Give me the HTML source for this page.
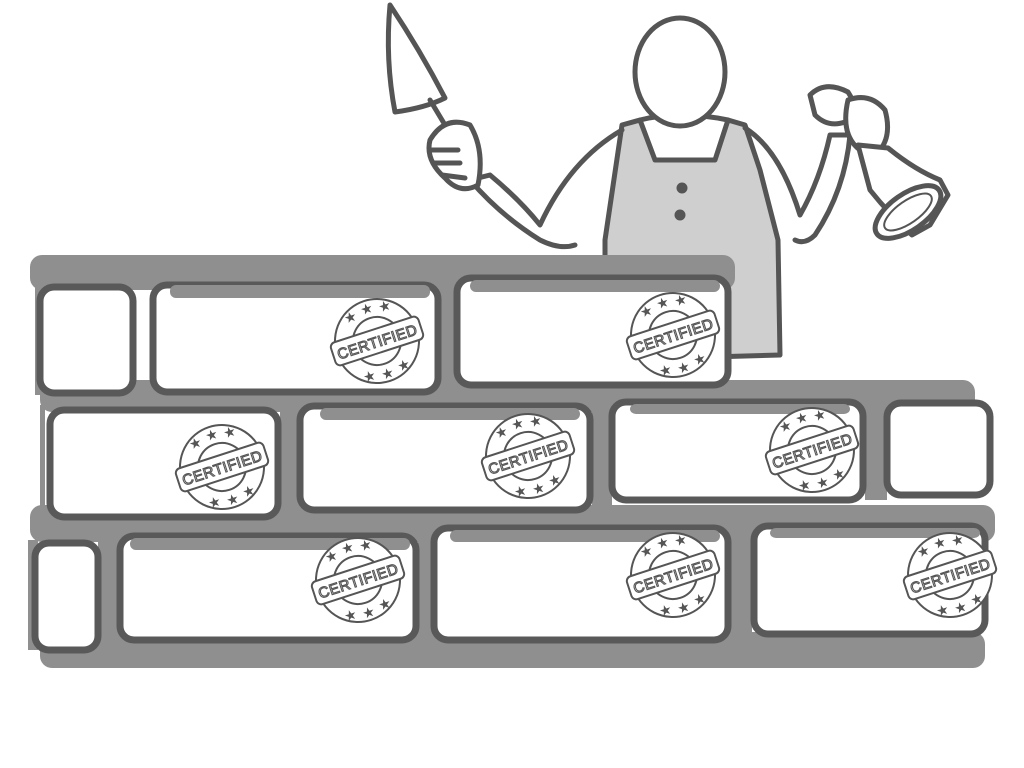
<!DOCTYPE html>
<html><head><meta charset="utf-8"><style>
html,body{margin:0;padding:0;background:#fff;}
svg{display:block}
</style></head><body>
<svg id="art" width="1024" height="768" viewBox="0 0 1024 768" xmlns="http://www.w3.org/2000/svg">
<g stroke="#555" stroke-width="5" fill="none" stroke-linecap="round" stroke-linejoin="round">
  <path d="M622 125 L640 120 L655 160 L715 160 L728 120 L745 125 L760 170 L778 240 L780 355 L605 360 L605 240 Z" fill="#cfcfcf"/>
  <path d="M640 120 Q680 110 728 120"/>
  <path d="M622 130 Q570 160 540 225 Q520 200 490 175 L470 180 Q500 215 540 240 Q560 250 575 245"/>
  <path d="M745 128 Q780 150 800 215 Q820 180 830 135 L850 135 Q845 190 815 235 Q805 245 795 240"/>
  <ellipse cx="680" cy="72" rx="45" ry="54" fill="#fff"/>
  <circle cx="682" cy="188" r="3" fill="#555"/><circle cx="680" cy="215" r="3" fill="#555"/>
  <path d="M390 5 Q385 60 395 112 Q425 108 445 98 Q420 50 390 5 Z" fill="#fff"/>
  <path d="M430 100 L445 125"/>
  <path d="M430 140 Q445 115 470 125 Q485 150 478 185 Q460 195 445 178 Q425 160 430 140 Z" fill="#fff"/>
  <path d="M432 150 L458 150 M435 163 L460 163 M442 175 L465 178"/>
  <path d="M810 95 Q825 80 848 92 Q860 110 845 122 Q828 128 815 115 Z" fill="#fff"/>
  <path d="M848 100 Q870 92 885 110 Q892 135 880 150 L860 150 Q840 135 848 100 Z" fill="#fff"/>
  <path d="M858 145 L888 148 Q915 170 940 180 L948 195 L930 225 L912 235 Q890 215 870 190 Z" fill="#fff"/>
  <ellipse cx="908" cy="212" rx="38" ry="18" transform="rotate(-35 908 212)" fill="#fff"/>
  <ellipse cx="908" cy="212" rx="28" ry="11" transform="rotate(-35 908 212)" stroke-width="2"/>
</g>
<g id="wall"></g>
</svg>
<script>
var NS='http://www.w3.org/2000/svg';
var wall=document.getElementById('wall');
function el(tag,attrs,parent){var e=document.createElementNS(NS,tag);for(var k in attrs)e.setAttribute(k,attrs[k]);(parent||wall).appendChild(e);return e;}
var mortarBands=[[30,255,735,290],[40,380,975,412],[30,505,995,542],[40,632,985,668]];
mortarBands.forEach(function(b,i){
  var r=el('rect',{x:b[0],y:b[1],width:b[2]-b[0],height:b[3]-b[1],rx:12,fill:'#8f8f8f'});
  
  
});
var mortarCols=[[35,285,115,395],[40,405,45,520],[280,405,300,512],[592,400,612,510],[865,398,887,500],[28,540,38,650],[98,535,120,645],[418,528,434,645],[730,525,752,640],[430,278,458,388]];
mortarCols.forEach(function(c,i){
  var r=el('rect',{x:c[0],y:c[1],width:c[2]-c[0],height:c[3]-c[1],fill:'#8f8f8f'});
  
  
});
var bricks=[[40,287,133,393],[153,285,438,392],[457,278,728,385],[50,410,278,517],[300,406,590,510],[612,402,863,500],[887,403,990,495],[35,543,98,650],[120,536,416,640],[434,528,728,640],[754,526,985,634]];
bricks.forEach(function(b,i){
  var r=el('rect',{x:b[0],y:b[1],width:b[2]-b[0],height:b[3]-b[1],rx:14,fill:'#fff',stroke:'#595959','stroke-width':7});
  
  
});
// mortar drips over brick tops
[[170,285,430,298],[470,280,720,292],[320,408,580,420],[630,404,850,414],[130,538,410,550],[450,530,720,542],[770,528,980,538]].forEach(function(d){
  var r=el('rect',{x:d[0],y:d[1],width:d[2]-d[0],height:d[3]-d[1],rx:6,fill:'#8f8f8f'});
  
  
});
var stamps=[[377,341],[673,335],[222,467],[528,456],[812,450],[358,580],[673,575],[950,575]];
stamps.forEach(function(s,i){
  var g=el('g',{transform:'translate('+s[0]+','+s[1]+') rotate(-18)',stroke:'#555',fill:'none','stroke-width':2});
  
  
  el('circle',{r:42,fill:'#fff'},g);
  el('circle',{r:24},g);
  el('rect',{x:-46,y:-12,width:92,height:24,rx:5,fill:'#fff'},g);
  [[-18,-31],[0,-34],[18,-31],[-18,31],[0,34],[18,31]].forEach(function(p){
    var t=el('text',{x:p[0],y:p[1]+5,'text-anchor':'middle','font-size':14,fill:'#555',stroke:'none','font-family':'DejaVu Sans, sans-serif'},g);t.textContent='★';
  });
  var t=el('text',{x:0,y:6,'text-anchor':'middle','font-size':15,fill:'#fff',stroke:'#555','stroke-width':1.1,'font-family':'Liberation Sans, sans-serif','letter-spacing':'0.5'},g);
  t.textContent='CERTIFIED';
});
</script>
</body></html>
